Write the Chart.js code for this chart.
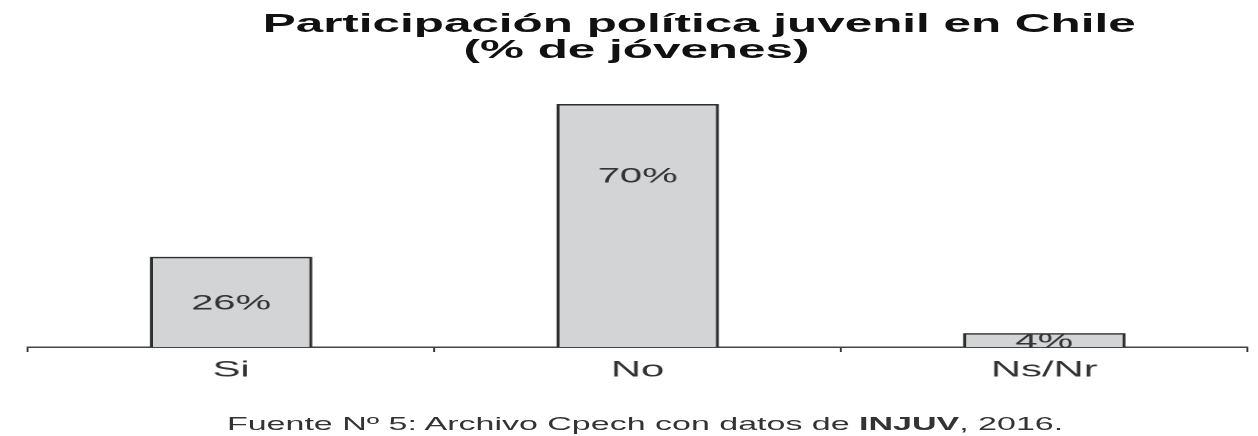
<!DOCTYPE html>
<html>
<head>
<meta charset="utf-8">
<script src="https://cdn.jsdelivr.net/npm/chart.js@4"></script>
<style>
  html, body { margin: 0; padding: 0; background: #fff; overflow: hidden; }
  #stage {
    position: absolute; left: 0; top: 0;
    width: 662px; height: 436px;
    transform: scaleX(1.9); transform-origin: 0 0;
    font-family: "Liberation Sans", Arial, sans-serif;
  }
  #chartBox { position: absolute; left: 0; top: 0; width: 662px; height: 436px; }
  .t { position: absolute; white-space: nowrap; text-align: center; }
  #t1 { left: 68px; width: 600px; top: 10px; font-size: 26px; line-height: 26px; font-weight: bold; color: #111; }
  #t2 { left: 35px; width: 600px; top: 36px; font-size: 26px; line-height: 26px; font-weight: bold; color: #111; }
  #cap { left: 39.5px; width: 600px; top: 416px; font-size: 17.9px; line-height: 17.9px; color: #333; }
</style>
</head>
<body>
<div id="stage">
  <div id="chartBox"><canvas id="c"></canvas></div>
  <div class="t" id="t1">Participación política juvenil en Chile</div>
  <div class="t" id="t2">(% de jóvenes)</div>
  <div class="t" id="cap">Fuente Nº 5: Archivo Cpech con datos de <b>INJUV</b>, 2016.</div>
</div>
<script>
const categories = ['Si', 'No', 'Ns/Nr'];
const values = [26, 70, 4];
const valueLabels = ['26%', '70%', '4%'];

const valueLabelPlugin = {
  id: 'valueLabels',
  afterDatasetsDraw(chart) {
    const ctx = chart.ctx;
    const meta = chart.getDatasetMeta(0);
    ctx.save();
    ctx.font = '21px "Liberation Sans", Arial, sans-serif';
    ctx.fillStyle = '#333';
    ctx.textAlign = 'center';
    ctx.textBaseline = 'middle';
    meta.data.forEach((bar, i) => {
      const y = Math.min((bar.y + bar.base) / 2, bar.y + 71);
      ctx.fillText(valueLabels[i], bar.x, y + 2);
    });
    ctx.restore();
  }
};

new Chart(document.getElementById('c'), {
  type: 'bar',
  data: {
    labels: categories,
    datasets: [{
      data: values,
      backgroundColor: '#d2d4d6',
      borderColor: '#2e2e2e',
      borderWidth: 1.7,
      barPercentage: 0.4,
      categoryPercentage: 1.0
    }]
  },
  options: {
    responsive: true,
    maintainAspectRatio: false,
    animation: false,
    devicePixelRatio: 2,
    layout: { padding: { left: 14.6, right: 5.4, top: 97, bottom: 44 } },
    plugins: {
      legend: { display: false },
      title: { display: false },
      tooltip: { enabled: false }
    },
    scales: {
      y: { display: false, min: 0, max: 72 },
      x: {
        offset: true,
        afterFit: (s) => { s.height = 45; },
        grid: { display: true, drawOnChartArea: false, drawTicks: true, tickLength: 5, color: '#333', lineWidth: 1 },
        border: { display: true, color: '#444', width: 1.5 },
        ticks: { color: '#333', padding: 5, font: { size: 22, family: '"Liberation Sans", Arial, sans-serif' } }
      }
    }
  },
  plugins: [valueLabelPlugin]
});
</script>
</body>
</html>
